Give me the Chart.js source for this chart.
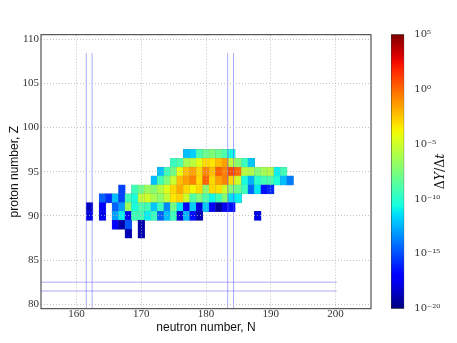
<!DOCTYPE html>
<html>
<head>
<meta charset="utf-8">
<script src="https://cdn.jsdelivr.net/npm/chart.js@4.4.0/dist/chart.umd.min.js"></script>
<style>
  html, body { margin: 0; padding: 0; background: #fff; }
  #wrap { position: relative; width: 457px; height: 343px; }
  #main { position: absolute; left: 0; top: 0; }
  #cbar { position: absolute; left: 380px; top: 0; }
</style>
</head>
<body>
<div id="wrap">
  <canvas id="main" width="457" height="343"></canvas>
  <canvas id="cbar" width="77" height="343"></canvas>
</div>
<script>
// log10(dY/dt) per cell, one array per proton number, columns = neutronNumbers
const _ = null;
const neutronNumbers = [162,163,164,165,166,167,168,169,170,171,172,173,174,175,176,177,
                        178,179,180,181,182,183,184,185,186,187,188,189,190,191,192,193];
const protonNumbers = [97, 96, 95, 94, 93, 92, 91, 90, 89, 88];

const z97 = [_,_,_,_,_,_,_,_,_,_,_,_,_,_,_, -12.2,-11.8,-9,-8.1,-7.4,-8.1,-9,-10.8, _,_,_,_,_,_,_,_,_];
const z96 = [_,_,_,_,_,_,_,_,_,_,_,_,_, -9.5,-9,-6.3,-5.6,-4.4,-3,-3.3,-2.3,-1.5,-5.5,-7.2,-9.5,-12, _,_,_,_,_,_];
const z95 = [_,_,_,_,_,_,_,_,_,_,_, -12.2,-9.3,-7.8,-4.2,-2.3,-1.5,-3,-0.8,-2.3,0.2,-0.7,0.8,0,
             -5.6,-6,-7.2,-6.3,-5.8,-11,-9.3, _];
const z94 = [_,_,_,_,_,_,_,_,_,_, -12.2,-9.3,-7.4,-5.2,-2.3,-1.5,-0.7,-3,0.2,-3,-1.5,-0.7,-3,-5,
             -10.5,-12.5,-10,-9.3,-9,-10.3,-12.2,-13.8];
const z93 = [_,_,_,_,_, -15.3, _, -9.3,-8,-6.6,-7.2,-5.8,-4.5,-3,-1.8,-3,-3.8,-3,-7,-3,-3.2,
             -5,-7.2,-8,-9.5,-14.3,-11.2,-16.5,-16, _,_,_];
const z92 = [_,_, -14.5,-15.7,-12.2,-15.3,-9.3,-10.5,-5.5,-5,-6.2,-7,-5.4,-3.3,-2.8,-5,-8.8,-7.4,-9,
             -10.8,-9.3,-7.2,-11.5,-11, _,_,_,_,_,_,_,_];
const z91 = [-18.5, _, -17.3, _, -14.5,-13,-6.5,-10.5,-9,-9.3,-12,-9.5,-13.5,-7.8,-11.3,-16.8,-11.8,-18,
             -12,-17.3,-19.3,-17.5,-16.5, _,_,_,_,_,_,_,_,_];
const z90 = [-17.8, _, -17.5, _, -13,-11,-17.5,-9.3,-9.3,-11,-9.5,-14.5,-12.2,-9.5,-18,-12.5,-16.5,-18.8,
             _,_,_,_,_,_,_,_, -17.8, _,_,_,_,_];
const z89 = [_,_,_,_, -17,-19,-14.8, _, -19, _,_,_,_,_,_,_,_,_,_,_,_,_,_,_,_,_,_,_,_,_,_,_];
const z88 = [_,_,_,_,_,_, -18.8, _, -19, _,_,_,_,_,_,_,_,_,_,_,_,_,_,_,_,_,_,_,_,_,_,_];
const rows = [z97, z96, z95, z94, z93, z92, z91, z90, z89, z88];

// shell guide lines
const shellN = [161.5, 162.4, 183.35, 184.25];
const shellNTop = 108.4;
const shellZ = [81.5, 82.5];
const shellZRight = 200.2;

const xRange = [154.5, 205.5];
const yRange = [79.5, 110.5];
const logRange = [-20, 5];

// matplotlib jet
const jetR = [[0,0],[0.35,0],[0.66,1],[0.89,1],[1,0.5]];
const jetG = [[0,0],[0.125,0],[0.375,1],[0.64,1],[0.91,0],[1,0]];
const jetB = [[0,0.5],[0.11,1],[0.34,1],[0.65,0],[1,0]];
function seg(s, t) {
  for (let i = 1; i < s.length; i++) {
    if (t <= s[i][0]) {
      const f = (t - s[i-1][0]) / (s[i][0] - s[i-1][0]);
      return s[i-1][1] + f * (s[i][1] - s[i-1][1]);
    }
  }
  return s[s.length-1][1];
}
function jetRGB(t) {
  t = Math.max(0, Math.min(1, t));
  return [seg(jetR, t), seg(jetG, t), seg(jetB, t)].map(c => Math.round(c * 255));
}
function toT(v) { return (v - logRange[0]) / (logRange[1] - logRange[0]); }
function cellColor(v) { const c = jetRGB(toT(v)); return `rgb(${c[0]},${c[1]},${c[2]})`; }
function edgeColor(v) {
  const c = jetRGB(toT(v)).map(x => Math.round(x * 0.72 + 120 * 0.28));
  return `rgb(${c[0]},${c[1]},${c[2]})`;
}

let cells = [];
rows.forEach((row, r) => {
  row.forEach((v, i) => {
    if (v !== null) {
      const z = protonNumbers[r];
      cells.push({x: neutronNumbers[i], y: [z - 0.5, z + 0.5], v: v});
    }
  });
});

let datasets = [{
  type: 'bar',
  data: cells,
  backgroundColor: c => c.raw ? cellColor(c.raw.v) : '#fff',
  borderColor: c => c.raw ? edgeColor(c.raw.v) : '#888',
  borderWidth: 0.6,
  borderSkipped: false,
  inflateAmount: 0.5,
  barPercentage: 1,
  categoryPercentage: 1,
  order: 2
}];
const lineStyle = {type: 'line', borderColor: 'rgba(90,90,255,0.5)', borderWidth: 1,
                   pointRadius: 0, fill: false, order: 0};
shellN.forEach(n => datasets.push(Object.assign({
  data: [{x: n, y: yRange[0]}, {x: n, y: shellNTop}]}, lineStyle)));
shellZ.forEach(z => datasets.push(Object.assign({
  data: [{x: xRange[0], y: z}, {x: shellZRight, y: z}]}, lineStyle)));

const frame = {
  id: 'frame',
  afterDraw(chart) {
    const {ctx, chartArea: a} = chart;
    ctx.save();
    ctx.strokeStyle = '#333';
    ctx.lineWidth = 1;
    ctx.strokeRect(a.left, a.top, a.right - a.left, a.bottom - a.top);
    ctx.restore();
  }
};

const tickFont = {family: 'Liberation Serif', size: 11};
const titleFont = {family: 'Liberation Sans', size: 12};

new Chart(document.getElementById('main'), {
  type: 'bar',
  data: {datasets: datasets},
  options: {
    responsive: false,
    animation: false,
    layout: {padding: {left: 0, right: 86, top: 34.7, bottom: 0}},
    plugins: {legend: {display: false}, tooltip: {enabled: false}},
    scales: {
      x: {
        type: 'linear', min: xRange[0], max: xRange[1], offset: false,
        afterFit: s => { s.height = 34.3; },
        ticks: {stepSize: 10, includeBounds: false, padding: -1, color: '#333', font: tickFont},
        grid: {color: '#b4b4b4', lineWidth: 0.8, drawTicks: false, offset: false, z: 1},
        border: {display: false, dash: [1, 2], z: 1},
        title: {display: true, text: 'neutron number, N', color: '#111', font: titleFont,
                padding: {top: 0, bottom: 8.5}}
      },
      y: {
        type: 'linear', min: yRange[0], max: yRange[1],
        afterFit: s => { s.width = 41; },
        ticks: {stepSize: 5, includeBounds: false, padding: 2, color: '#333', font: tickFont},
        grid: {color: '#b4b4b4', lineWidth: 0.8, drawTicks: false, z: 1},
        border: {display: false, dash: [1, 2], z: 1},
        title: {display: true, text: 'proton number, Z', color: '#111', font: titleFont,
                padding: {top: 7, bottom: 0}}
      }
    }
  },
  plugins: [frame]
});

// colour bar
const supMap = {'0':'⁰','1':'¹','2':'²','3':'³','4':'⁴','5':'⁵','6':'⁶','7':'⁷','8':'⁸','9':'⁹','-':'⁻'};
function sup(v) { return String(v).split('').map(ch => supMap[ch] || ch).join(''); }

function jetGradient(chart) {
  const a = chart.chartArea;
  if (!a) return '#888';
  const g = chart.ctx.createLinearGradient(0, a.bottom, 0, a.top);
  for (let i = 0; i <= 40; i++) {
    const c = jetRGB(i / 40);
    g.addColorStop(i / 40, `rgb(${c[0]},${c[1]},${c[2]})`);
  }
  return g;
}

const cbarLabel = {
  id: 'cbarLabel',
  afterDraw(chart) {
    const {ctx, chartArea: a} = chart;
    const parts = [['Δ', ''], ['Y', 'italic '], ['/Δ', ''], ['t', 'italic ']];
    ctx.save();
    ctx.translate(61, (a.top + a.bottom) / 2);
    ctx.rotate(-Math.PI / 2);
    ctx.fillStyle = '#111';
    ctx.textBaseline = 'middle';
    let w = 0;
    parts.forEach(p => { ctx.font = p[1] + '12.5px "DejaVu Serif"'; w += ctx.measureText(p[0]).width; });
    let x = -w / 2;
    parts.forEach(p => {
      ctx.font = p[1] + '12.5px "DejaVu Serif"';
      ctx.fillText(p[0], x, 0);
      x += ctx.measureText(p[0]).width;
    });
    ctx.restore();
  }
};

new Chart(document.getElementById('cbar'), {
  type: 'bar',
  data: {
    labels: [''],
    datasets: [{
      data: [logRange],
      backgroundColor: c => jetGradient(c.chart),
      borderColor: '#333',
      borderWidth: 0.8,
      borderSkipped: false,
      barPercentage: 1,
      categoryPercentage: 1
    }]
  },
  options: {
    responsive: false,
    animation: false,
    layout: {padding: {left: 11, right: 0, top: 34.3, bottom: 34.3}},
    plugins: {legend: {display: false}, tooltip: {enabled: false}},
    scales: {
      x: {display: false},
      y: {
        position: 'right', min: logRange[0], max: logRange[1],
        afterFit: s => { s.width = 77 - 24.3; },
        ticks: {stepSize: 5, padding: 2, color: '#333', font: {family: 'DejaVu Serif', size: 10},
                callback: v => '10' + sup(v)},
        grid: {display: false},
        border: {display: false}
      }
    }
  },
  plugins: [cbarLabel]
});
</script>
</body>
</html>
